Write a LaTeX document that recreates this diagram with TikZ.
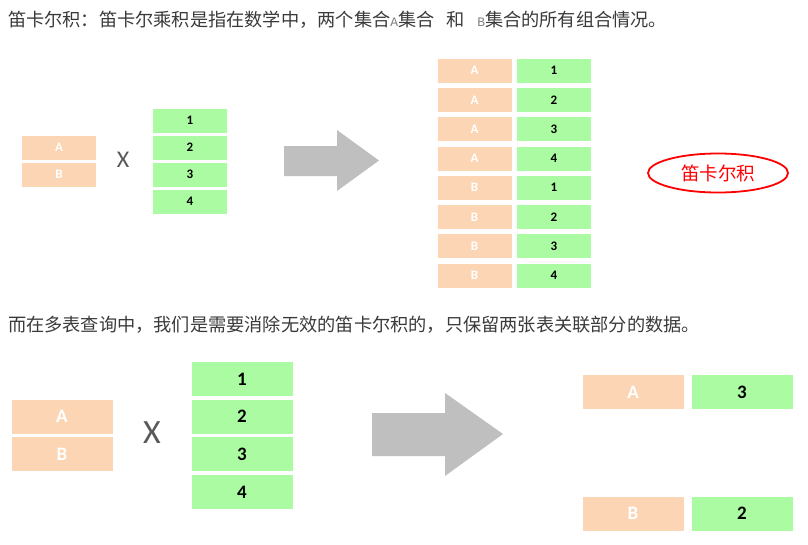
\documentclass[tikz,border=0pt]{standalone}
\usepackage{fontspec}
\setmainfont{Carlito}
\newfontfamily\cjk{Noto Sans CJK SC}
\newfontfamily\monofnt{Liberation Mono}
\usetikzlibrary{shapes.geometric}
\definecolor{orangeC}{HTML}{FCD5B5}
\definecolor{greenC}{HTML}{AAFBA1}
\definecolor{arrowC}{HTML}{BFBFBF}
\definecolor{txtC}{HTML}{3A3A3A}
\definecolor{xC}{HTML}{595959}
\tikzset{
  obox/.style={fill=orangeC, draw=white, line width=0.8pt, inner sep=0pt, text=white},
  gbox/.style={fill=greenC, draw=white, line width=0.8pt, inner sep=0pt, text=black},
  small/.style={minimum width=75pt, minimum height=25pt, font=\bfseries\fontsize{13}{15}\selectfont},
  big/.style={minimum width=102pt, minimum height=35pt, font=\bfseries\fontsize{19}{21}\selectfont},
  bigarrow/.style={fill=arrowC, draw=none},
}
\begin{document}
\begin{tikzpicture}[x=1pt,y=-1pt]
\useasboundingbox (0,0) rectangle (808,544);
% titles
\node[anchor=west, inner sep=0pt, text=txtC, font=\cjk\fontsize{18.2}{20}\selectfont] (t1) at (8,20)
 {笛卡尔积：笛卡尔乘积是指在数学中，两个集合{\monofnt\fontsize{13}{14}\selectfont\color{gray}A}集合\ \ \ 和\ \ \ {\monofnt\fontsize{13}{14}\selectfont\color{gray}B}集合的所有组合情况。};
\node[anchor=west, inner sep=0pt, text=txtC, font=\cjk\fontsize{18.2}{20}\selectfont] (t2) at (8,325)
 {而在多表查询中，我们是需要消除无效的笛卡尔积的，只保留两张表关联部分的数据。};

% ---- top section ----
\node[obox, small] (ta) at (59,147.5) {A};
\node[obox, small] (tb) at (59,174.5) {B};
\node[text=xC, font=\fontsize{24}{26}\selectfont] (tx) at (123,160) {X};
\node[gbox, small] (t1g) at (190,120.5) {1};
\node[gbox, small] (t2g) at (190,147.5) {2};
\node[gbox, small] (t3g) at (190,174.5) {3};
\node[gbox, small] (t4g) at (190,201.5) {4};
\fill[bigarrow] (284,146) -- (337,146) -- (337,130) -- (379,160.5) -- (337,191) -- (337,176) -- (284,176) -- cycle;
\foreach \l/\n [count=\i from 0] in {A/1,A/2,A/3,A/4,B/1,B/2,B/3,B/4}{
  \node[obox, small] (ro\i) at (474.5,{70.5+29.3*\i}) {\l};
  \node[gbox, small] (rg\i) at (554,{70.5+29.3*\i}) {\n};
}
\node[ellipse, draw=red, line width=1.8pt, minimum width=140pt, minimum height=39pt, inner sep=0pt,
      text=red, font=\cjk\fontsize{18.5}{20}\selectfont] (dk) at (718,173) {笛卡尔积};

% ---- bottom section ----
\node[obox, big] (ba) at (62,416.5) {A};
\node[obox, big] (bb) at (62,454) {B};
\node[text=xC, font=\fontsize{34}{36}\selectfont] (bx) at (152,433) {X};
\node[gbox, big] (b1) at (242,379) {1};
\node[gbox, big] (b2) at (242,416.5) {2};
\node[gbox, big] (b3) at (242,454) {3};
\node[gbox, big] (b4) at (242,492) {4};
\fill[bigarrow] (372,413) -- (445,413) -- (445,393) -- (503,434) -- (445,476) -- (445,456) -- (372,456) -- cycle;
\node[obox, big] (ra) at (633,392) {A};
\node[gbox, big] (r3) at (742,392) {3};
\node[obox, big] (rb) at (633,513.5) {B};
\node[gbox, big] (r2) at (742,513.5) {2};
\end{tikzpicture}
\end{document}
